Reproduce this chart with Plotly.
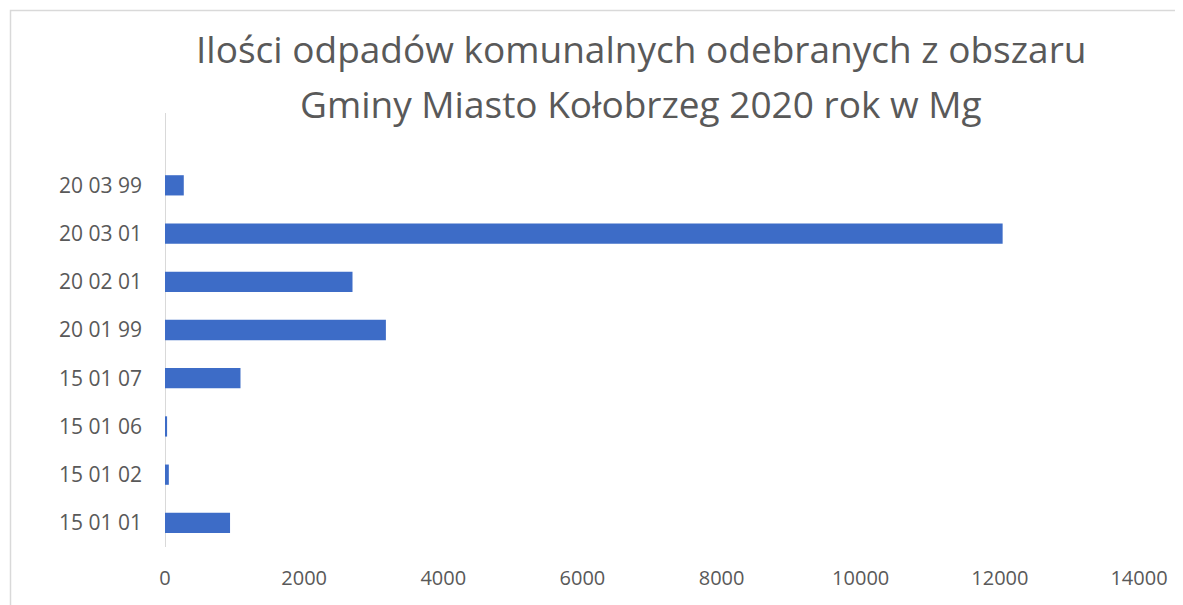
import plotly.graph_objects as go

categories = ["15 01 01", "15 01 02", "15 01 06", "15 01 07",
              "20 01 99", "20 02 01", "20 03 01", "20 03 99"]
values = [935, 55, 30, 1085, 3175, 2695, 12040, 270]
x_ticks = [0, 2000, 4000, 6000, 8000, 10000, 12000, 14000]
x_tick_labels = ["0", "2000", "4000", "6000", "8000", "10000", "12000", "14000"]

title_line1 = "Ilości odpadów komunalnych odebranych z obszaru"
title_line2 = "Gminy Miasto Kołobrzeg 2020 rok w Mg"

OFF = 8  # page body margin
W, H = 1183, 605
L, R, T, B = 165 - OFF, 44 + OFF, 113 - OFF, 58 + OFF
pw, ph = W - L - R, H - T - B

def px(x):
    return (x - OFF - L) / pw

def py(y):
    return (H - B - (y - OFF)) / ph

fig = go.Figure()
fig.add_trace(go.Bar(
    y=categories, x=values, orientation="h",
    marker=dict(color="#3D6CC7", line=dict(width=0)),
    width=0.42,
))

fig.add_shape(type="rect", xref="paper", yref="paper",
              x0=px(10.5), x1=px(1200), y0=py(10.5), y1=py(640),
              line=dict(color="#d9d9d9", width=1.5), fillcolor="rgba(0,0,0,0)",
              layer="below")

title_font = dict(family="Open Sans", size=37, color="#595959")
fig.add_annotation(text=title_line1, xref="paper", yref="paper",
                   x=px(641), y=py(48), xanchor="center", yanchor="middle",
                   showarrow=False, font=title_font)
fig.add_annotation(text=title_line2, xref="paper", yref="paper",
                   x=px(641), y=py(103), xanchor="center", yanchor="middle",
                   showarrow=False, font=title_font)

fig.update_layout(
    width=W, height=H,
    margin=dict(l=L, r=R, t=T, b=B, autoexpand=False),
    paper_bgcolor="white", plot_bgcolor="white",
    showlegend=False,
    font=dict(family="Open Sans", color="#595959"),
    xaxis=dict(range=[0, 14000], tickvals=x_ticks, ticktext=x_tick_labels,
               showgrid=False, zeroline=False, showline=False, ticks="",
               tickfont=dict(size=20, color="#595959"),
               ticklabelstandoff=17),
    yaxis=dict(type="category", categoryorder="array", categoryarray=categories,
               range=[-0.5, 8.5], showgrid=False, zeroline=False,
               showline=False, ticks="",
               tickfont=dict(size=21, color="#595959"),
               ticklabelstandoff=22),
)
fig.add_shape(type="line", xref="x", yref="paper", x0=0, x1=0, y0=0, y1=1,
              line=dict(color="#d9d9d9", width=2), layer="below")

fig.write_html("out.html")
